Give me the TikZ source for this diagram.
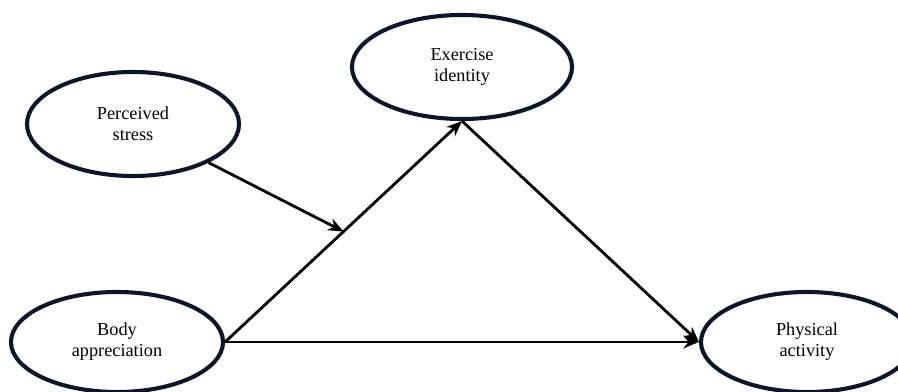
\documentclass[tikz,border=0pt]{standalone}
\usepackage{fontspec}
\setmainfont{Liberation Serif}
\usetikzlibrary{shapes.geometric,arrows.meta}
\definecolor{ringcol}{RGB}{12,22,40}

\begin{document}
\begin{tikzpicture}[x=0.025cm,y=-0.025cm,
  var/.style={ellipse,draw=ringcol,line width=2.9pt,inner sep=0pt,
    minimum width=5.3cm,minimum height=2.6cm,align=center,
    font=\fontsize{13}{15}\selectfont},
  link/.style={line width=2pt,-{Stealth[length=11pt,width=9pt]}}]
\useasboundingbox (0,0) rectangle (898,392);
% latent variables
\node[var] (ps) at (133,124) {Perceived\\stress};
\node[var,minimum width=5.5cm] (ei) at (462,67) {Exercise\\identity};
\node[var,minimum height=2.5cm] (ba) at (117,342) {Body\\appreciation};
\node[var,minimum height=2.5cm] (pa) at (807,342) {Physical\\activity};
% paths
\draw[link] (ba.east) -- (pa.west);
\draw[link] (ba.east) -- coordinate[pos=0.5] (mid) (ei.south);
\draw[link] (ei.south) -- (pa.west);
\draw[link] (ps) -- (mid);
\end{tikzpicture}
\end{document}
